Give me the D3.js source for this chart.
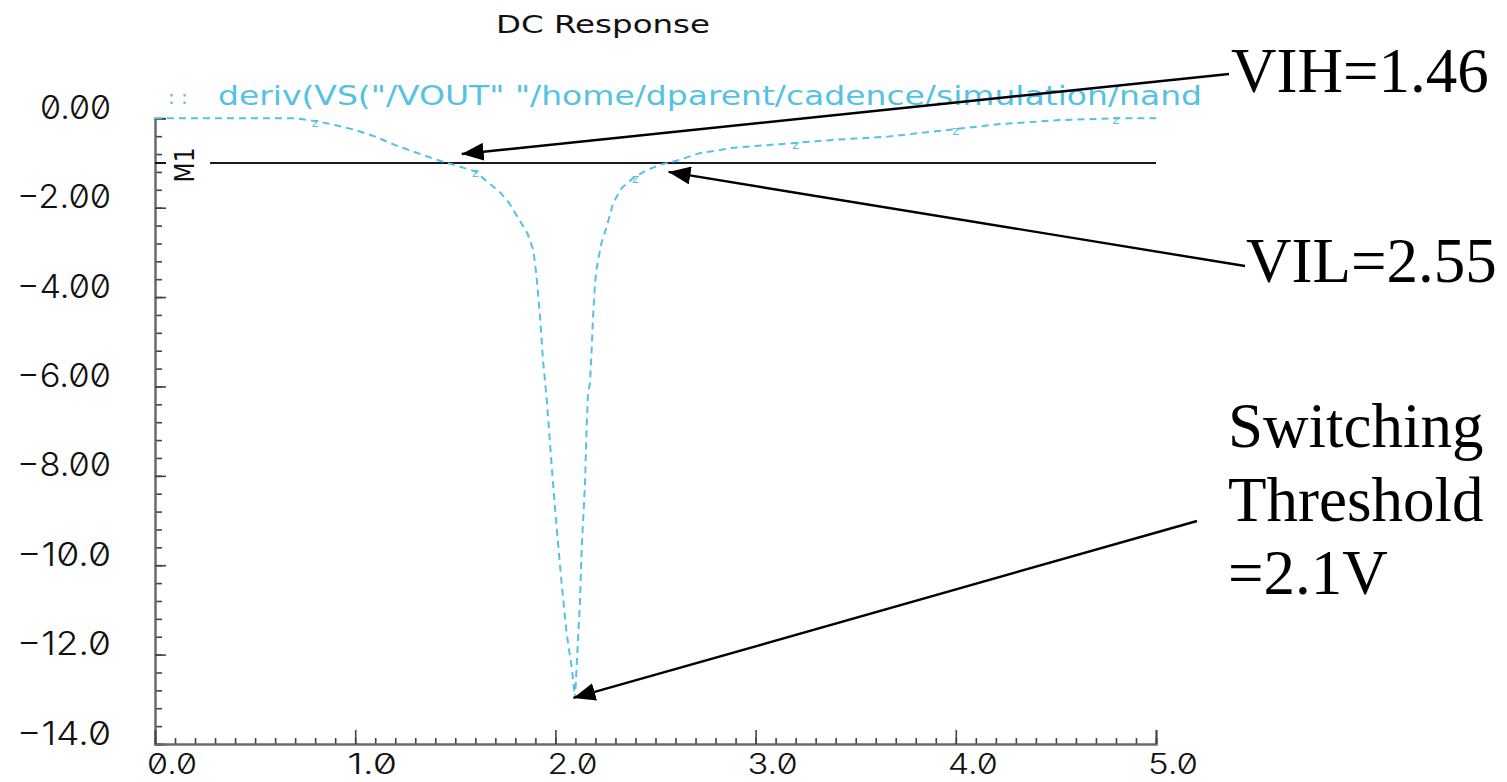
<!DOCTYPE html>
<html>
<head>
<meta charset="utf-8">
<script src="https://cdn.jsdelivr.net/npm/d3@7"></script>
<style>
  html, body { margin: 0; padding: 0; background: #fff; }
  svg { display: block; }
  .cad { font-family: "DejaVu Sans", sans-serif; }
  .num { font-family: Inter, "DejaVu Sans", sans-serif; font-feature-settings: "zero" 1; font-weight: 300; }
  .note { font-family: "Liberation Serif", "Times New Roman", serif; }
</style>
</head>
<body>
<svg id="chart" width="1507" height="782"></svg>
<script>
// Input voltage sweep (V) and the slope dVout/dVin of the NAND gate's DC transfer curve
const vin = [0, 0.70, 0.80, 0.90, 1.00, 1.10, 1.20, 1.30, 1.40, 1.46, 1.50, 1.60, 1.66, 1.72,
  1.77, 1.81, 1.86, 1.89, 1.906, 1.923, 1.938, 1.957, 1.973, 1.988, 2.006, 2.031, 2.056, 2.081,
  2.098, 2.106, 2.123, 2.131, 2.148, 2.156, 2.163, 2.173, 2.181, 2.188, 2.198, 2.206, 2.23,
  2.256, 2.288, 2.331, 2.388, 2.456, 2.523, 2.62, 2.72, 2.89, 3.0, 3.2, 3.4, 3.66, 3.98, 4.22,
  4.52, 4.80, 5.0];
const gain = [0, 0, -0.06, -0.15, -0.26, -0.41, -0.60, -0.76, -0.92, -1.0, -1.05, -1.19, -1.42,
  -1.64, -1.90, -2.20, -2.57, -2.95, -3.54, -4.44, -5.41, -6.30, -7.27, -8.16, -9.14, -10.40,
  -11.52, -12.27, -12.98, -12.27, -10.78, -9.66, -8.16, -6.90, -6.15, -5.92, -5.18, -4.44,
  -3.69, -3.35, -2.79, -2.43, -1.90, -1.56, -1.34, -1.16, -1.04, -0.93, -0.78, -0.66, -0.62,
  -0.55, -0.48, -0.41, -0.25, -0.13, -0.04, 0, 0];

// Curve symbols are placed every 0.8 V along the trace
const markerVin = [0.8, 1.6, 2.4, 3.2, 4.0, 4.8];

// Axis ticks and their labels
const xMajor = [0, 1, 2, 3, 4, 5];
const xLabels = ["0.0", "1.0", "2.0", "3.0", "4.0", "5.0"];
const yMajor = [0, -2, -4, -6, -8, -10, -12, -14];
const yLabels = ["0.00", "\u22122.00", "\u22124.00", "\u22126.00", "\u22128.00", "\u221210.0", "\u221212.0", "\u221214.0"];

// Marker M1 at gain = -1 and the annotated points
const m1Level = -1;
const m1Start = 0.275;
const notes = [
  { lines: ["VIH=1.46"], tip: [1.532, -0.80] },
  { lines: ["VIL=2.55"], tip: [2.565, -1.20] },
  { lines: ["Switching", "Threshold", "=2.1V"], tip: [2.09, -12.97] }
];

const title = "DC Response";
const legendText = "deriv(VS(\"/VOUT\" \"/home/dparent/cadence/simulation/nand";

const svg = d3.select("#chart");
const x = d3.scaleLinear().domain([0, 5]).range([155, 1156]);
const y = d3.scaleLinear().domain([0, -14]).range([118.3, 744]);
const traceColor = "#55c1e3";
const axisColor = "#6a6a6a";

// Title
svg.append("text").attr("class", "cad")
  .attr("x", 496).attr("y", 33)
  .attr("font-size", 25).attr("fill", "#111")
  .attr("textLength", 214).attr("lengthAdjust", "spacingAndGlyphs")
  .text(title);

// Legend entry
svg.append("text").attr("class", "cad")
  .attr("x", 168).attr("y", 104)
  .attr("font-size", 20).attr("fill", traceColor)
  .text(": :");
svg.append("text").attr("class", "cad")
  .attr("x", 218).attr("y", 105)
  .attr("font-size", 27).attr("fill", traceColor)
  .attr("textLength", 984).attr("lengthAdjust", "spacingAndGlyphs")
  .text(legendText);

// Axes: minor ticks first, then majors drawn over them
const yMinorVals = d3.range(0, 36).map(i => -i * 0.4);
const xMinorVals = d3.range(0, 51).map(i => i * 0.1);

const gy = svg.append("g").attr("transform", `translate(${x(0)},0)`);
gy.call(d3.axisRight(y).tickValues(yMinorVals).tickSize(7).tickFormat(""));
gy.append("g").call(d3.axisRight(y).tickValues(yMajor).tickSize(11).tickFormat(""));
gy.selectAll("path.domain").attr("stroke", axisColor).attr("stroke-width", 2);
gy.selectAll(".tick line").attr("stroke", "#444").attr("stroke-width", 1.6);

const gx = svg.append("g").attr("transform", `translate(0,${y(-14)})`);
gx.call(d3.axisBottom(x).tickValues(xMinorVals).tickSize(-6).tickFormat(""));
gx.append("g").call(d3.axisBottom(x).tickValues(xMajor).tickSize(-14).tickFormat(""));
gx.selectAll("path.domain").attr("stroke", axisColor).attr("stroke-width", 2);
gx.selectAll(".tick line").attr("stroke", "#444").attr("stroke-width", 1.6);

// Tick labels
svg.append("g").selectAll("text").data(yMajor).join("text")
  .attr("class", "num")
  .attr("x", 111).attr("y", d => y(d) + 0.5)
  .attr("text-anchor", "end")
  .attr("font-size", 33).attr("fill", "#111")
  .attr("textLength", (d, i) => yLabels[i].length === 4 ? 71 : 94)
  .attr("lengthAdjust", "spacingAndGlyphs")
  .text((d, i) => yLabels[i]);

svg.append("g").selectAll("text").data(xMajor).join("text")
  .attr("class", "num")
  .attr("x", d => x(d) - 8).attr("y", 774)
  .attr("font-size", 29).attr("fill", "#111")
  .attr("textLength", 50).attr("lengthAdjust", "spacingAndGlyphs")
  .text((d, i) => xLabels[i]);

// Marker M1
svg.append("line")
  .attr("x1", x(m1Start)).attr("x2", x(5))
  .attr("y1", y(m1Level)).attr("y2", y(m1Level))
  .attr("stroke", "#1a1a1a").attr("stroke-width", 2);
svg.append("line")
  .attr("x1", x(0)).attr("x2", x(0) + 11)
  .attr("y1", y(m1Level)).attr("y2", y(m1Level))
  .attr("stroke", "#111").attr("stroke-width", 2);
svg.append("text").attr("class", "cad")
  .attr("transform", `translate(194,${y(m1Level) + 2}) rotate(-90)`)
  .attr("text-anchor", "middle")
  .attr("font-size", 27).attr("fill", "#111")
  .attr("textLength", 35).attr("lengthAdjust", "spacingAndGlyphs")
  .text("M1");

// Derivative trace
const pts = vin.map((v, i) => [v, gain[i]]);
const line = d3.line().x(d => x(d[0])).y(d => y(d[1]));
svg.append("path").datum(pts)
  .attr("d", line)
  .attr("fill", "none")
  .attr("stroke", traceColor)
  .attr("stroke-width", 2)
  .attr("stroke-dasharray", "7,5");

const interp = v => {
  const i = d3.bisectRight(vin, v) - 1;
  const j = Math.min(i + 1, vin.length - 1);
  if (j === i) return gain[i];
  const t = (v - vin[i]) / (vin[j] - vin[i]);
  return gain[i] + t * (gain[j] - gain[i]);
};
svg.append("g").selectAll("text").data(markerVin).join("text")
  .attr("class", "cad")
  .attr("x", d => x(d)).attr("y", d => y(interp(d)) + 6)
  .attr("text-anchor", "middle")
  .attr("font-size", 13).attr("fill", traceColor)
  .text("z");

// Annotations with arrows
const defs = svg.append("defs");
defs.append("marker")
  .attr("id", "head").attr("viewBox", "0 0 22 18")
  .attr("refX", 22).attr("refY", 9)
  .attr("markerWidth", 22).attr("markerHeight", 18)
  .attr("markerUnits", "userSpaceOnUse")
  .attr("orient", "auto")
  .append("path").attr("d", "M0,0 L22,9 L0,18 Z").attr("fill", "#000");

const noteLayout = [
  { x: 1231, y: 92, from: [1229, 74] },
  { x: 1246, y: 282, from: [1245, 266] },
  { x: 1228, y: 447, from: [1197, 521] }
];
notes.forEach((n, k) => {
  const L = noteLayout[k];
  svg.append("line")
    .attr("x1", L.from[0]).attr("y1", L.from[1])
    .attr("x2", x(n.tip[0])).attr("y2", y(n.tip[1]))
    .attr("stroke", "#000").attr("stroke-width", 2.4)
    .attr("marker-end", "url(#head)");
  const t = svg.append("text").attr("class", "note")
    .attr("font-size", 63).attr("fill", "#000");
  n.lines.forEach((s, i) => {
    t.append("tspan").attr("x", L.x).attr("y", L.y + i * 73.7).text(s);
  });
});
</script>
</body>
</html>
